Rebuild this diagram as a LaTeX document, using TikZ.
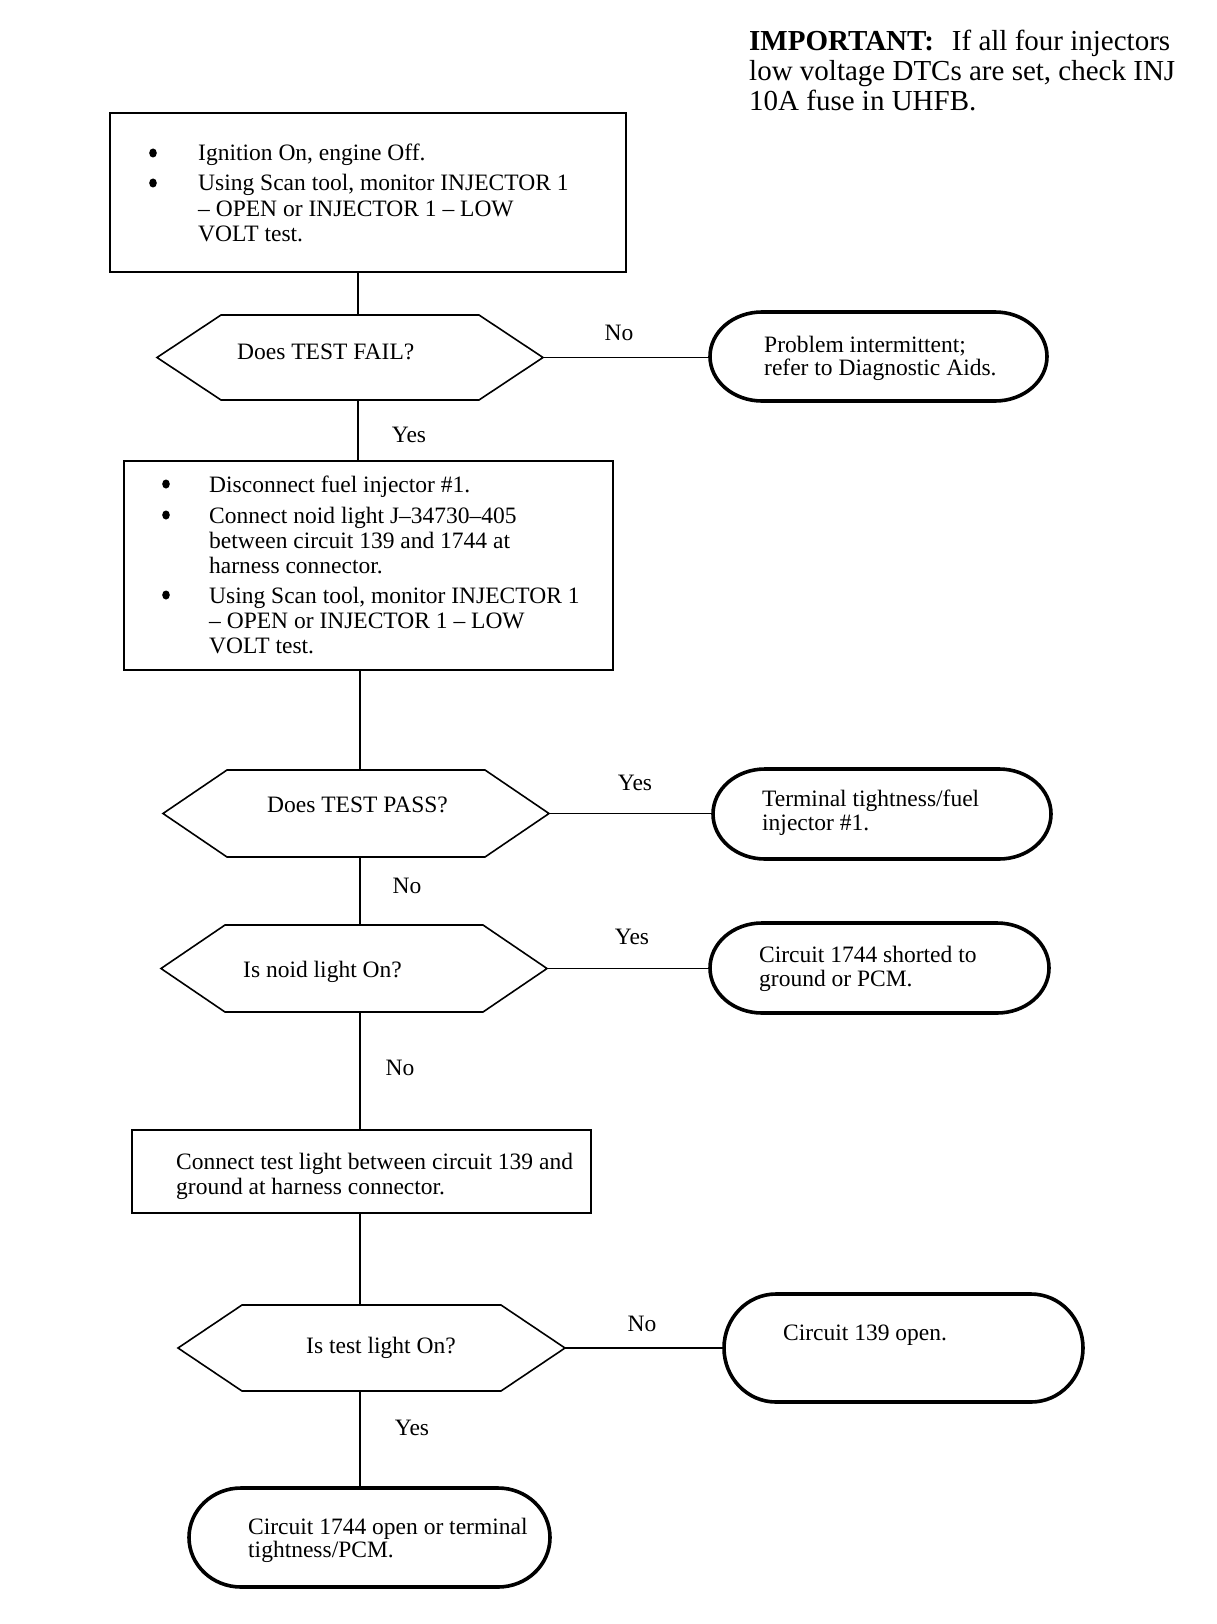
\documentclass[tikz,border=0pt]{standalone}
\usepackage{fontspec}
\setmainfont{Liberation Serif}
\newcommand\hexshape[4]{%
  \node[shapenode, minimum width=#3pt, minimum height=#4pt] (#1) at (#2) {};
  \draw[boxline] (#1.west) -- ([xshift=64pt]#1.north west) -- ([xshift=-64pt]#1.north east) -- (#1.east) -- ([xshift=-64pt]#1.south east) -- ([xshift=64pt]#1.south west) -- cycle;}
\newcommand\termshape[5]{%
  \node[shapenode, minimum width=#3pt, minimum height=#4pt] (#1) at (#2) {};
  \draw[termline] ([xshift=52pt]#1.north west) -- ([xshift=-52pt]#1.north east)
    arc[start angle=90, end angle=-90, x radius=52pt, y radius=#5pt]
    -- ([xshift=52pt]#1.south west)
    arc[start angle=270, end angle=90, x radius=52pt, y radius=#5pt] -- cycle;}
\begin{document}
\begin{tikzpicture}[x=1pt,y=-1pt,
  boxline/.style={draw, line width=1.6pt, line join=miter},
  conn/.style={line width=1.4pt},
  shapenode/.style={inner sep=0pt, outer sep=0pt},
  termline/.style={line width=3.6pt},
  txt/.style={inner sep=0pt, anchor=base west, font=\fontsize{23.5}{25}\selectfont},
  bul/.style={circle, fill=black, inner sep=0pt, minimum size=9pt, xscale=0.85},
  lbl/.style={inner sep=0pt, anchor=base, font=\fontsize{23.5}{25}\selectfont},
  imp/.style={inner sep=0pt, anchor=base west, font=\fontsize{29}{30}\selectfont}]
\useasboundingbox[fill=white] (0,0) rectangle (1216,1624);

% IMPORTANT note
\node[imp] (im1) at (749,51) {\textbf{IMPORTANT:}\hspace{18pt}If all four injectors};
\node[imp] (im2) at (749,81) {low voltage DTCs are set, check INJ};
\node[imp] (im3) at (749,111) {10A fuse in UHFB.};

% Box 1
\node[boxline, shapenode, minimum width=516pt, minimum height=159pt] (b1) at (368,192.5) {};
\node[bul] (b1i1) at (153,153) {};
\node[txt] (b1l1) at (198,161) {Ignition On, engine Off.};
\node[bul] (b1i2) at (153,183) {};
\node[txt] (b1l2) at (198,191) {Using Scan tool, monitor INJECTOR 1};
\node[txt] (b1l3) at (198,216) {\textendash{} OPEN or INJECTOR 1 \textendash{} LOW};
\node[txt] (b1l4) at (198,241) {VOLT test.};

% Decision 1
\hexshape{d1}{350,357.5}{386}{85}
\node[txt] (d1t) at (237,359) {Does TEST FAIL?};
\termshape{t1}{878.5,356.5}{337}{89}{44.5}
\node[txt] (t1a) at (764,352) {Problem intermittent;};
\node[txt] (t1b) at (764,375) {refer to Diagnostic Aids.};

% Box 2
\node[boxline, shapenode, minimum width=489pt, minimum height=209pt] (b2) at (368.5,565.5) {};
\node[bul] (b2i1) at (166,484) {};
\node[txt] (b2l1) at (209,492) {Disconnect fuel injector \#1.};
\node[bul] (b2i2) at (166,515) {};
\node[txt] (b2l2) at (209,523) {Connect noid light J\textendash 34730\textendash 405};
\node[txt] (b2l3) at (209,548) {between circuit 139 and 1744 at};
\node[txt] (b2l4) at (209,573) {harness connector.};
\node[bul] (b2i3) at (166,595) {};
\node[txt] (b2l5) at (209,603) {Using Scan tool, monitor INJECTOR 1};
\node[txt] (b2l6) at (209,628) {\textendash{} OPEN or INJECTOR 1 \textendash{} LOW};
\node[txt] (b2l7) at (209,653) {VOLT test.};

% Decision 2
\hexshape{d2}{356,813.5}{386}{87}
\node[txt] (d2t) at (267,812) {Does TEST PASS?};
\termshape{t2}{882,814}{338}{90}{45}
\node[txt] (t2a) at (762,806) {Terminal tightness/fuel};
\node[txt] (t2b) at (762,830) {injector \#1.};

% Decision 3
\hexshape{d3}{354,968.5}{386}{87}
\node[txt] (d3t) at (243,977) {Is noid light On?};
\termshape{t3}{879.5,968}{339}{90}{45}
\node[txt] (t3a) at (759,962) {Circuit 1744 shorted to};
\node[txt] (t3b) at (759,986) {ground or PCM.};

% Box 3
\node[boxline, shapenode, minimum width=459pt, minimum height=83pt] (b3) at (361.5,1171.5) {};
\node[txt] (b3l1) at (176,1169) {Connect test light between circuit 139 and};
\node[txt] (b3l2) at (176,1194) {ground at harness connector.};

% Decision 4
\hexshape{d4}{371.5,1348}{387}{86}
\node[txt] (d4t) at (306,1353) {Is test light On?};
\termshape{t4}{903.5,1348}{359}{108}{54}
\node[txt] (t4a) at (783,1340) {Circuit 139 open.};

% End
\termshape{t5}{369.5,1537.5}{361}{99}{49.5}
\node[txt] (t5a) at (248,1534) {Circuit 1744 open or terminal};
\node[txt] (t5b) at (248,1557) {tightness/PCM.};

% connectors
\coordinate (ca) at (358,0);
\coordinate (cb) at (360,0);
\draw[conn] (b1.south -| ca) -- (d1.north -| ca);
\draw[conn] (d1.south -| ca) -- (b2.north -| ca);
\draw[conn] (b2.south -| cb) -- (d2.north -| cb);
\draw[conn] (d2.south -| cb) -- (d3.north -| cb);
\draw[conn] (d3.south -| cb) -- (b3.north -| cb);
\draw[conn] (b3.south -| cb) -- (d4.north -| cb);
\draw[conn] (d4.south -| cb) -- (t5.north -| cb);
\draw[conn] (d1.east) -- (d1.east -| t1.west);
\draw[conn] (d2.east) -- (d2.east -| t2.west);
\draw[conn] (d3.east) -- (d3.east -| t3.west);
\draw[conn] (d4.east) -- (d4.east -| t4.west);

% labels
\node[lbl] (l1) at (619,340) {No};
\node[lbl] (l2) at (409,442) {Yes};
\node[lbl] (l3) at (635,790) {Yes};
\node[lbl] (l4) at (407,893) {No};
\node[lbl] (l5) at (632,944) {Yes};
\node[lbl] (l6) at (400,1075) {No};
\node[lbl] (l7) at (642,1331) {No};
\node[lbl] (l8) at (412,1435) {Yes};
\end{tikzpicture}
\end{document}
